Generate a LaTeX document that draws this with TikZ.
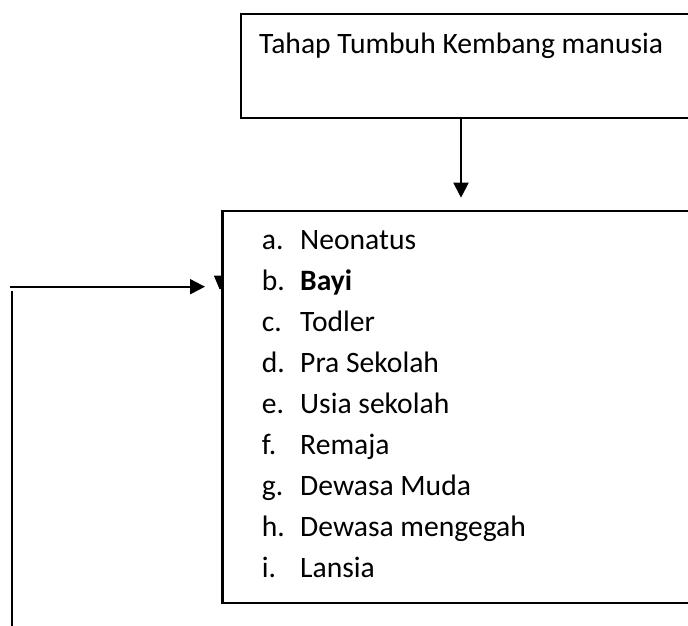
\documentclass[tikz,border=0pt]{standalone}
\usepackage{fontspec}
\setmainfont{Carlito}
\usetikzlibrary{arrows.meta}
\begin{document}
\begin{tikzpicture}[x=1pt,y=-1pt,
  boxshape/.style={draw=black, line width=2pt, fill=white, rectangle, inner sep=0pt, anchor=north west},
  txt/.style={anchor=base west, inner sep=0pt, font=\fontsize{29.6}{35}\selectfont},
  arr/.style={line width=2pt, -{Triangle[length=15pt,width=15pt]}},
  plain/.style={line width=2pt}]
\clip (0,0) rectangle (688,625);
\fill[white] (0,0) rectangle (688,625);
% top box
\node[boxshape, minimum width=470pt, minimum height=103.4pt] (top) at (239.5,13.3) {};
\node[txt] (toptext) at (259,53) {Tahap Tumbuh Kembang manusia};
% list box
\node[boxshape, minimum width=490pt, minimum height=391.7pt] (list) at (221.7,210) {};
\foreach \l/\t/\y [count=\i] in {a./Neonatus/249, b./\textbf{Bayi}/290, c./Todler/331, d./Pra Sekolah/372, e./Usia sekolah/413, f./Remaja/454, g./Dewasa Muda/495, h./Dewasa mengegah/536, i./Lansia/577}{
  \node[txt] (lab\i) at (261.7,\y) {\l};
  \node[txt] (item\i) at (300,\y) {\t};
}
% connectors
\coordinate (downtip) at (461,197.7);
\coordinate (downstart) at (top.south -| downtip);
\draw[arr] (downstart) -- (downtip);
\coordinate (hstart) at (10,286.7);
\coordinate (htip) at (205,286.7);
\draw[arr] (hstart) -- (htip);
\coordinate (vtop) at (11.5,291);
\coordinate (vbot) at (11.5,630);
\draw[plain] (vtop) -- (vbot);
% small partial arrowhead at the list box edge
\fill[black] (213.8,275.5) -- (221.7,275.5) -- (221.7,289) -- (219.5,289) -- cycle;
\draw[line width=2pt] (list.north west) -- (list.south west);
\end{tikzpicture}
\end{document}
